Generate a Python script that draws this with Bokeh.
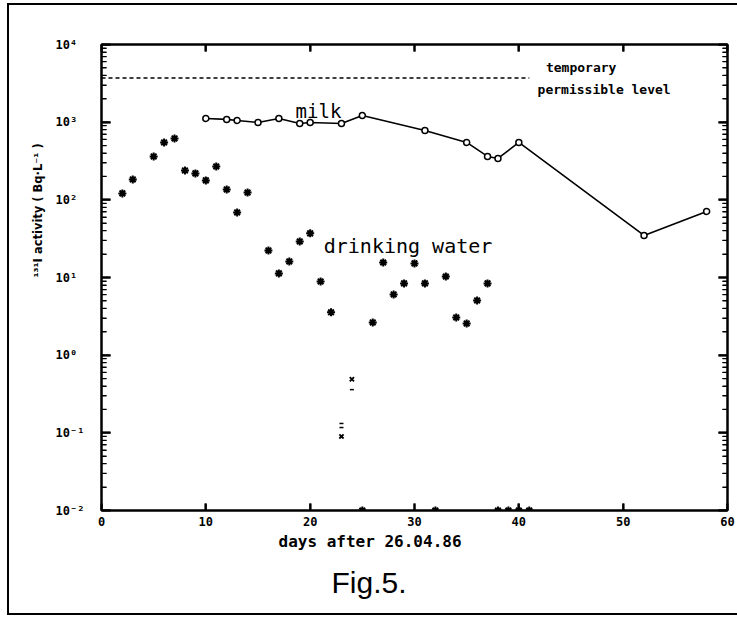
import math
from bokeh.plotting import figure
from bokeh.models import (LinearAxis, LogAxis, FixedTicker, Label, Title,
                          Range1d, CustomJSTickFormatter)
from bokeh.embed import file_html
from bokeh.resources import INLINE

# ---------------- data ----------------
milk_days = [10, 12, 13, 15, 17, 19, 20, 23, 25, 31, 35, 37, 38, 40, 52, 58]
milk_bq = [1117, 1085, 1052, 990, 1117, 962, 990, 962, 1219, 782, 548, 362, 341, 548, 34.8, 71]

water_days = [2, 3, 5, 6, 7, 8, 9, 10, 11, 12, 13, 14, 16, 17, 18, 19, 20, 21, 22,
              26, 27, 28, 29, 30, 31, 33, 34, 35, 36, 37]
water_bq = [121, 183, 362, 548, 617, 239, 219, 178, 269, 136, 68.8, 124, 22.3, 11.3, 16.1,
            29.1, 37, 8.9, 3.56, 2.64, 15.6, 6.05, 8.4, 15.2, 8.4, 10.3, 3.06, 2.56, 5.07, 8.4]

water_low_days = [23, 24]
water_low_bq = [0.090, 0.49]
water_mark_days = [23, 23, 24]
water_mark_bq = [0.117, 0.132, 0.36]

below_days = [25, 32, 38, 39, 40, 41]
below_bq = [0.01, 0.01, 0.01, 0.01, 0.01, 0.01]

permissible_days = [0, 41]
permissible_bq = [3700, 3700]

x_ticks = [0, 10, 20, 30, 40, 50, 60]
x_tick_labels = ["0", "10", "20", "30", "40", "50", "60"]
y_ticks = [0.01, 0.1, 1, 10, 100, 1000, 10000]
y_tick_labels = ["10⁻²", "10⁻¹", "10⁰", "10¹", "10²", "10³", "10⁴"]
y_minor_mantissas = [2, 3, 4, 5, 6, 7, 8, 9]

# ---------------- figure ----------------
W, H = 737, 617
BL, BR, BT, BB = 101, 10, 44, 107
X0, X1, Y0, Y1 = 0, 60, 0.01, 10000
p = figure(width=W, height=H, output_backend="svg", toolbar_location=None,
           x_range=Range1d(X0, X1), y_range=Range1d(Y0, Y1),
           y_axis_type="log", x_axis_type="linear",
           min_border_left=BL, min_border_right=BR, min_border_top=BT, min_border_bottom=BB,
           background_fill_color="white", border_fill_color=None)
# thin sheet border of the scanned page (left, top, bottom edges)
p.styles = {
    "background-image": "linear-gradient(#000,#000), linear-gradient(#000,#000), linear-gradient(#000,#000)",
    "background-size": "2px 612px, 730px 2px, 730px 2px",
    "background-position": "7px 3px, 7px 3px, 7px 613px",
    "background-repeat": "no-repeat",
    "background-color": "white",
}
p.xgrid.visible = False
p.ygrid.visible = False
p.outline_line_color = "black"
p.outline_line_width = 2

minor_y = [m * 10.0 ** e for e in range(-2, 4) for m in y_minor_mantissas]
y_ticker = FixedTicker(ticks=y_ticks, minor_ticks=minor_y)
x_ticker = FixedTicker(ticks=x_ticks)

y_fmt = CustomJSTickFormatter(args=dict(lbls=y_tick_labels, vals=y_ticks), code="""
    for (let i = 0; i < vals.length; i++) {
        if (Math.abs(Math.log10(vals[i]) - Math.log10(tick)) < 1e-6)
            return lbls[i].padEnd(4, "\\u00a0");
    }
    return "";
""")
x_fmt = CustomJSTickFormatter(args=dict(lbls=x_tick_labels, vals=x_ticks), code="""
    for (let i = 0; i < vals.length; i++) {
        if (Math.abs(vals[i] - tick) < 1e-6) return lbls[i];
    }
    return "";
""")
blank_fmt = CustomJSTickFormatter(code='return "";')

mono = "DejaVu Sans Mono"

def style_axis(ax, maj_in, min_in):
    ax.axis_line_width = 2
    ax.axis_line_color = "black"
    ax.major_tick_in = maj_in
    ax.major_tick_out = 0
    ax.minor_tick_in = min_in
    ax.minor_tick_out = 0
    ax.major_tick_line_width = 2
    ax.minor_tick_line_width = 1.2
    ax.major_tick_line_color = "black"
    ax.minor_tick_line_color = "black"
    ax.major_label_text_font = mono
    ax.major_label_text_font_style = "bold"
    ax.major_label_text_color = "black"
    ax.major_label_text_font_size = "12px"

yl = p.yaxis[0]
yl.ticker = y_ticker
yl.formatter = y_fmt
style_axis(yl, 9, 5)
yl.major_label_standoff = 17

xb = p.xaxis[0]
xb.ticker = x_ticker
xb.formatter = x_fmt
style_axis(xb, 7, 0)
xb.major_label_standoff = 6

yr = LogAxis(ticker=y_ticker, formatter=blank_fmt)
style_axis(yr, 9, 5)
yr.major_label_standoff = 0
p.add_layout(yr, "right")
xt = LinearAxis(ticker=x_ticker, formatter=blank_fmt)
style_axis(xt, 7, 0)
xt.major_label_standoff = 0
p.add_layout(xt, "above")

# inward tick marks on all four frame edges, as dash markers centred on the edge
# (the outer half falls outside the frame and is clipped away)
edge_y_x = [X0] * len(y_ticks) + [X1] * len(y_ticks)
edge_y_y = y_ticks + y_ticks
p.scatter(edge_y_x, edge_y_y, marker="dash", size=18, line_color="black", line_width=2)
edge_m_x = [X0] * len(minor_y) + [X1] * len(minor_y)
edge_m_y = minor_y + minor_y
p.scatter(edge_m_x, edge_m_y, marker="dash", size=10, line_color="black", line_width=1.2)
edge_x_x = x_ticks + x_ticks
edge_x_y = [Y0] * len(x_ticks) + [Y1] * len(x_ticks)
p.scatter(edge_x_x, edge_x_y, marker="dash", angle=math.pi / 2, size=14,
          line_color="black", line_width=2)

# ---------------- marks ----------------
p.line(permissible_days, permissible_bq, line_color="black", line_width=1.5, line_dash="4 3")

p.line(milk_days, milk_bq, line_color="black", line_width=1.6)
p.scatter(milk_days, milk_bq, marker="circle", size=6, fill_color="white",
          line_color="black", line_width=1.5)

p.scatter(water_days, water_bq, marker="asterisk", size=8, line_color="black", line_width=2)
p.scatter(water_low_days, water_low_bq, marker="x", size=6, line_color="black", line_width=1.8)
p.scatter(water_mark_days, water_mark_bq, marker="dash", size=4, line_color="black", line_width=1.5)
p.scatter(below_days, below_bq, marker="asterisk", size=8, line_color="black", line_width=2)

# ---------------- texts inside the frame ----------------
def lab(x, y, text, **kw):
    p.add_layout(Label(x=x, y=y, text=text, text_color="black", **kw))

lab(18.6, 1393, "milk", text_font=mono, text_font_size="19px",
    text_align="left", text_baseline="middle")
lab(21.3, 25.5, "drinking water", text_font=mono, text_font_size="20px",
    text_align="left", text_baseline="middle")
lab(42.6, 5060, "temporary", text_font=mono, text_font_style="bold", text_font_size="13px",
    text_align="left", text_baseline="middle")
lab(41.8, 2637, "permissible level", text_font=mono, text_font_style="bold",
    text_font_size="13px", text_align="left", text_baseline="middle")

# ---------------- texts outside the frame (titles) ----------------
p.add_layout(Title(text="days after 26.04.86", align="left", offset=177, standoff=3,
                   text_font=mono, text_font_style="bold", text_font_size="16px",
                   text_color="black"), "below")
p.add_layout(Title(text="Fig.5.", align="left", offset=230, standoff=23,
                   text_font="Liberation Sans", text_font_style="normal", text_font_size="30px",
                   text_color="black"), "below")
p.add_layout(Title(text="¹³¹I activity ( Bq·L⁻¹ )", align="left", offset=233, standoff=16,
                   text_font="DejaVu Sans", text_font_style="bold", text_font_size="11.5px",
                   text_color="black"), "left")

open("out.html", "w").write(file_html(p, INLINE))
